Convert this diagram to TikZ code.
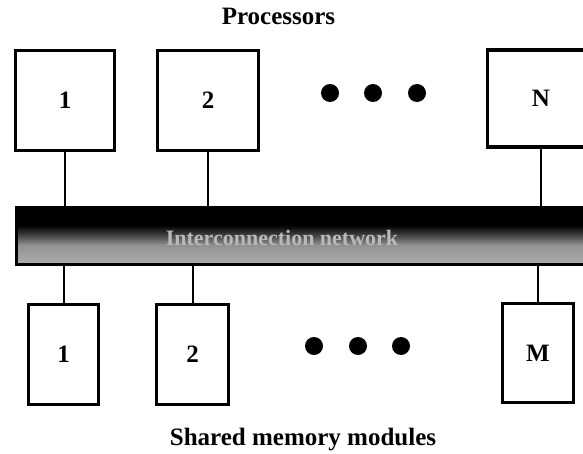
\documentclass[tikz,border=0pt]{standalone}
\usepackage{fontspec}
\setmainfont{Liberation Serif}
\colorlet{busgrey}{gray!65}
\colorlet{busmid}{gray!45!black}
\pgfdeclareverticalshading{busshade}{100bp}{color(0bp)=(busgrey); color(25bp)=(busgrey); color(42bp)=(busgrey!85!black); color(52bp)=(busmid); color(60bp)=(black); color(100bp)=(black)}
\begin{document}
\begin{tikzpicture}[x=1pt,y=-1pt,
  box/.style={draw,line width=3.2pt,fill=white,inner sep=0pt,
    font=\bfseries\fontsize{25}{30}\selectfont},
  wire/.style={line width=2pt},
  bigdot/.style={circle,fill=black,minimum size=18pt,inner sep=0pt},
  heading/.style={font=\bfseries\fontsize{25}{30}\selectfont,inner sep=0pt,anchor=base},
  bus/.style={draw=black,line width=3.5pt,inner sep=0pt,shading=busshade}]
\path[use as bounding box] (0,0) rectangle (583,454);
\clip (0,0) rectangle (583,454);

% titles
\node[heading] (ptitle) at (278.5,25) {Processors};
\node[heading] (mtitle) at (303,445) {Shared memory modules};

% interconnection bus
\node[bus,anchor=north west,minimum width=600pt,minimum height=56pt] (net) at (14.5,206.5) {};
\node[font=\bfseries\fontsize{22}{26}\selectfont,text=gray!55,anchor=base,inner sep=0pt]
  (nettext) at (282,246) {Interconnection network};

% processors
\node[box,minimum width=99pt,minimum height=100pt] (p1) at (65,100.5) {1};
\node[box,minimum width=101pt,minimum height=100pt] (p2) at (208,100.5) {2};
\node[box,minimum width=107pt,minimum height=97pt] (pN) at (541,98.5) {N};
\node[bigdot] (pd1) at (330,93) {};
\node[bigdot] (pd2) at (373,93) {};
\node[bigdot] (pd3) at (417,93) {};

% memories
\node[box,minimum width=70pt,minimum height=100pt] (m1) at (63.5,354.5) {1};
\node[box,minimum width=72pt,minimum height=100pt] (m2) at (192.5,354.5) {2};
\node[box,minimum width=71pt,minimum height=99pt] (mM) at (538,353) {M};
\node[bigdot] (md1) at (314,346) {};
\node[bigdot] (md2) at (358,346) {};
\node[bigdot] (md3) at (401,346) {};

% connectors
\foreach \n in {p1,p2,pN}
  \draw[wire] (\n.south) -- (\n.south |- net.north);
\foreach \n in {m1,m2,mM}
  \draw[wire] (\n.north) -- (\n.north |- net.south);
\end{tikzpicture}
\end{document}
